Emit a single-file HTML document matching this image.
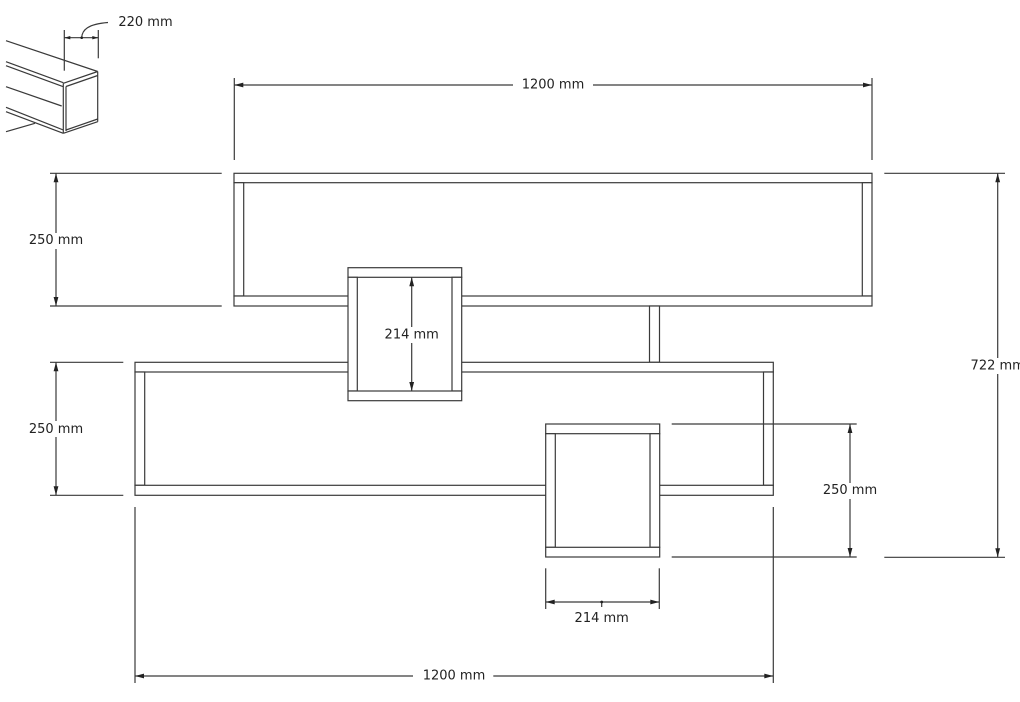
<!DOCTYPE html>
<html><head><meta charset="utf-8"><style>
html,body{margin:0;padding:0;background:#fff;}
svg{display:block;}
text{font-family:"DejaVu Sans","Liberation Sans",sans-serif;font-size:13px;fill:#222;}
</style></head><body>
<svg width="1020" height="702" viewBox="0 0 1020 702" xmlns="http://www.w3.org/2000/svg">
<rect width="1020" height="702" fill="#fff"/>
<g fill="none" stroke="#3a3a3a" stroke-width="1.2">
<!-- thumbnail -->
<line x1="64.3" y1="30" x2="64.3" y2="70.7"/>
<line x1="98.3" y1="30" x2="98.3" y2="58.3"/>
<line x1="64.3" y1="37.7" x2="98.3" y2="37.7"/>
<path d="M81.7,37.7 C82,30 88,24 108,22.5"/>
<line x1="6" y1="40.7" x2="97.7" y2="71.5"/>
<line x1="63.3" y1="83.3" x2="97.7" y2="71.5"/>
<line x1="66" y1="86.5" x2="97.7" y2="75.5"/>
<line x1="6" y1="61.7" x2="63.3" y2="82.7"/>
<line x1="6" y1="65.7" x2="63.3" y2="86.7"/>
<line x1="6" y1="86.7" x2="61.7" y2="106"/>
<line x1="6" y1="107.3" x2="63.3" y2="130"/>
<line x1="6" y1="111.7" x2="63.3" y2="133.3"/>
<line x1="6" y1="131.7" x2="35" y2="123.3"/>
<line x1="63.3" y1="83.3" x2="63.3" y2="133.3"/>
<line x1="66" y1="86.5" x2="66" y2="131"/>
<line x1="97.7" y1="71.5" x2="97.7" y2="121.7"/>
<line x1="63.3" y1="133.3" x2="97.7" y2="121.7"/>
<line x1="66" y1="130" x2="97.7" y2="119"/>

<!-- extension lines -->
<line x1="234.3" y1="78" x2="234.3" y2="160"/>
<line x1="872" y1="78" x2="872" y2="160"/>
<line x1="50" y1="173.3" x2="221.7" y2="173.3"/>
<line x1="50" y1="306" x2="221.7" y2="306"/>
<line x1="50" y1="362.3" x2="123.3" y2="362.3"/>
<line x1="50" y1="495.3" x2="123.3" y2="495.3"/>
<line x1="884.3" y1="173.3" x2="1005" y2="173.3"/>
<line x1="884.3" y1="557.3" x2="1005" y2="557.3"/>
<line x1="135" y1="507" x2="135" y2="683"/>
<line x1="773.3" y1="507" x2="773.3" y2="683"/>
<line x1="545.7" y1="568.3" x2="545.7" y2="609"/>
<line x1="659.3" y1="568.3" x2="659.3" y2="609"/>

<!-- dimension lines -->
<line x1="234.3" y1="85" x2="513" y2="85"/>
<line x1="593" y1="85" x2="872" y2="85"/>
<line x1="56" y1="173.3" x2="56" y2="306"/>
<line x1="56" y1="362.3" x2="56" y2="495.3"/>
<line x1="997.7" y1="173.3" x2="997.7" y2="557.3"/>
<line x1="850" y1="424" x2="850" y2="557"/>
<line x1="545.7" y1="602" x2="659.3" y2="602"/>
<line x1="601.7" y1="602" x2="601.7" y2="607"/>
<line x1="135" y1="676" x2="413" y2="676"/>
<line x1="493.3" y1="676" x2="773.3" y2="676"/>
</g>

<!-- shelves -->
<g fill="#fff" stroke="#3a3a3a" stroke-width="1.2">
<rect x="234" y="173.3" width="638" height="9.4"/>
<rect x="234" y="182.7" width="9.7" height="113.3"/>
<rect x="862.3" y="182.7" width="9.7" height="113.3"/>
<rect x="234" y="296" width="638" height="10"/>
<rect x="649.5" y="306" width="10" height="56.3"/>
<rect x="135" y="362.3" width="638.3" height="9.7"/>
<rect x="135" y="372" width="9.7" height="113.3"/>
<rect x="763.5" y="372" width="9.8" height="113.3"/>
<rect x="135" y="485.3" width="638.3" height="10"/>
<rect x="348" y="267.7" width="113.7" height="133" stroke="none"/>
<rect x="348" y="267.7" width="113.7" height="9.6"/>
<rect x="348" y="277.3" width="9.3" height="113.7"/>
<rect x="452" y="277.3" width="9.7" height="113.7"/>
<rect x="348" y="391" width="113.7" height="9.7"/>
<rect x="545.7" y="424" width="114" height="133" stroke="none"/>
<rect x="545.7" y="424" width="114" height="9.7"/>
<rect x="545.7" y="433.7" width="9.6" height="113.6"/>
<rect x="650" y="433.7" width="9.7" height="113.6"/>
<rect x="545.7" y="547.3" width="114" height="9.7"/>
</g>
<g fill="none" stroke="#3a3a3a" stroke-width="1.2">
<line x1="411.7" y1="277.3" x2="411.7" y2="391"/>
<line x1="671.7" y1="424" x2="856.7" y2="424"/>
<line x1="671.7" y1="557" x2="856.7" y2="557"/>
</g>

<!-- arrowheads -->
<g fill="#222">
<polygon points="234.3,85 243.3,82.6 243.3,87.4"/>
<polygon points="872,85 863,82.6 863,87.4"/>
<polygon points="56,173.3 53.6,182.3 58.4,182.3"/>
<polygon points="56,306 53.6,297 58.4,297"/>
<polygon points="56,362.3 53.6,371.3 58.4,371.3"/>
<polygon points="56,495.3 53.6,486.3 58.4,486.3"/>
<polygon points="997.7,173.3 995.3,182.3 1000.1,182.3"/>
<polygon points="997.7,557.3 995.3,548.3 1000.1,548.3"/>
<polygon points="850,424 847.6,433 852.4,433"/>
<polygon points="850,557 847.6,548 852.4,548"/>
<polygon points="411.7,277.3 409.3,286.3 414.1,286.3"/>
<polygon points="411.7,391 409.3,382 414.1,382"/>
<polygon points="545.7,602 554.7,599.6 554.7,604.4"/>
<polygon points="659.3,602 650.3,599.6 650.3,604.4"/>
<polygon points="135,676 144,673.6 144,678.4"/>
<polygon points="773.3,676 764.3,673.6 764.3,678.4"/>
<polygon points="64.3,37.7 70.3,36 70.3,39.4"/>
<polygon points="98.3,37.7 92.3,36 92.3,39.4"/>
<circle cx="81.7" cy="37.7" r="1.3"/>
<circle cx="601.7" cy="602" r="1.4"/>
</g>

<!-- label backgrounds -->
<g fill="#fff">
<rect x="28" y="233" width="56" height="16"/>
<rect x="28" y="421" width="56" height="16"/>
<rect x="383" y="327" width="57" height="16"/>
<rect x="822" y="483" width="57" height="16"/>
<rect x="969" y="358" width="51" height="16"/>
</g>

<!-- labels -->
<g dominant-baseline="central" text-anchor="middle">
<text x="145.5" y="22.7">220 mm</text>
<text x="553" y="85">1200 mm</text>
<text x="56" y="240.7">250 mm</text>
<text x="56" y="429.3">250 mm</text>
<text x="411.7" y="335">214 mm</text>
<text x="997.7" y="366">722 mm</text>
<text x="850" y="490.7">250 mm</text>
<text x="601.7" y="618.3">214 mm</text>
<text x="454" y="676">1200 mm</text>
</g>
</svg>
</body></html>
